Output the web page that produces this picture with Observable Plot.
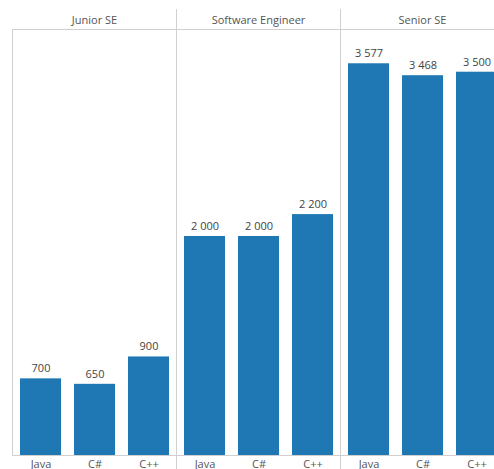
<!DOCTYPE html>
<html>
<head>
<meta charset="utf-8">
<script src="https://cdn.jsdelivr.net/npm/d3@7"></script>
<script src="https://cdn.jsdelivr.net/npm/@observablehq/plot@0.6"></script>
<style>
  html, body { margin: 0; padding: 0; overflow: hidden; background: #fff; }
  #chart { width: 494px; height: 469px; overflow: hidden; }
  #chart svg { max-width: none !important; height: 480px !important; }
</style>
</head>
<body>
<div id="chart"></div>
<script>
const roles = ["Junior SE", "Software Engineer", "Senior SE"];
const languages = ["Java", "C#", "C++"];
const juniorValues = [700, 650, 900];
const engineerValues = [2000, 2000, 2200];
const seniorValues = [3577, 3468, 3500];
const yMax = 3890;

const valuesByRole = [juniorValues, engineerValues, seniorValues];
const data = roles.flatMap((role, i) =>
  languages.map((lang, j) => ({role, lang, value: valuesByRole[i][j]}))
);

const fmt = v => d3.format(",")(v).replace(/,/g, " ");
const font = "'Open Sans', 'Noto Sans', sans-serif";
const gridColor = "#d0d0d0";
const textColor = "#555";

const chart = Plot.plot({
  width: 504,
  height: 480,
  marginLeft: 12,
  marginRight: 0,
  marginTop: 29,
  marginBottom: 25,
  style: {fontFamily: font, fontSize: "11px", color: textColor, background: "#fff", maxWidth: "none"},
  fx: {domain: roles, padding: 0, label: null},
  x: {domain: languages, paddingInner: 0.25, paddingOuter: 0.125, label: null},
  y: {domain: [0, yMax], axis: null},
  marks: [
    Plot.barY(data, {fx: "role", x: "lang", y: "value", fill: "#1f78b4"}),
    Plot.text(data, {fx: "role", x: "lang", y: "value", text: d => fmt(d.value), dy: -10, fill: "#444", fontSize: 11}),
    Plot.ruleY([0], {stroke: gridColor}),
    Plot.ruleY([yMax], {stroke: gridColor}),
    Plot.axisFx({anchor: "top", tickSize: 0, tickPadding: 6, label: null, fontSize: 11, fill: textColor}),
    Plot.axisX({anchor: "bottom", tickSize: 0, tickPadding: 5, label: null, fontSize: 11, fill: textColor})
  ]
});

// facet separators (derived from the fx scale)
const fx = chart.scale("fx");
const y = chart.scale("y");
const svg = d3.select(chart.tagName === "svg" ? chart : chart.querySelector("svg"));
roles.forEach((r, i) => {
  const xpos = Math.round(fx.apply(r)) + 0.5;
  const top = i === 0 ? y.apply(yMax) : y.apply(yMax) - 20;
  const bottom = i === 0 ? y.apply(0) : y.apply(0) + 16;
  svg.append("line")
    .attr("x1", xpos).attr("x2", xpos)
    .attr("y1", top).attr("y2", bottom)
    .attr("stroke", gridColor);
});

document.getElementById("chart").appendChild(chart);
</script>
</body>
</html>
